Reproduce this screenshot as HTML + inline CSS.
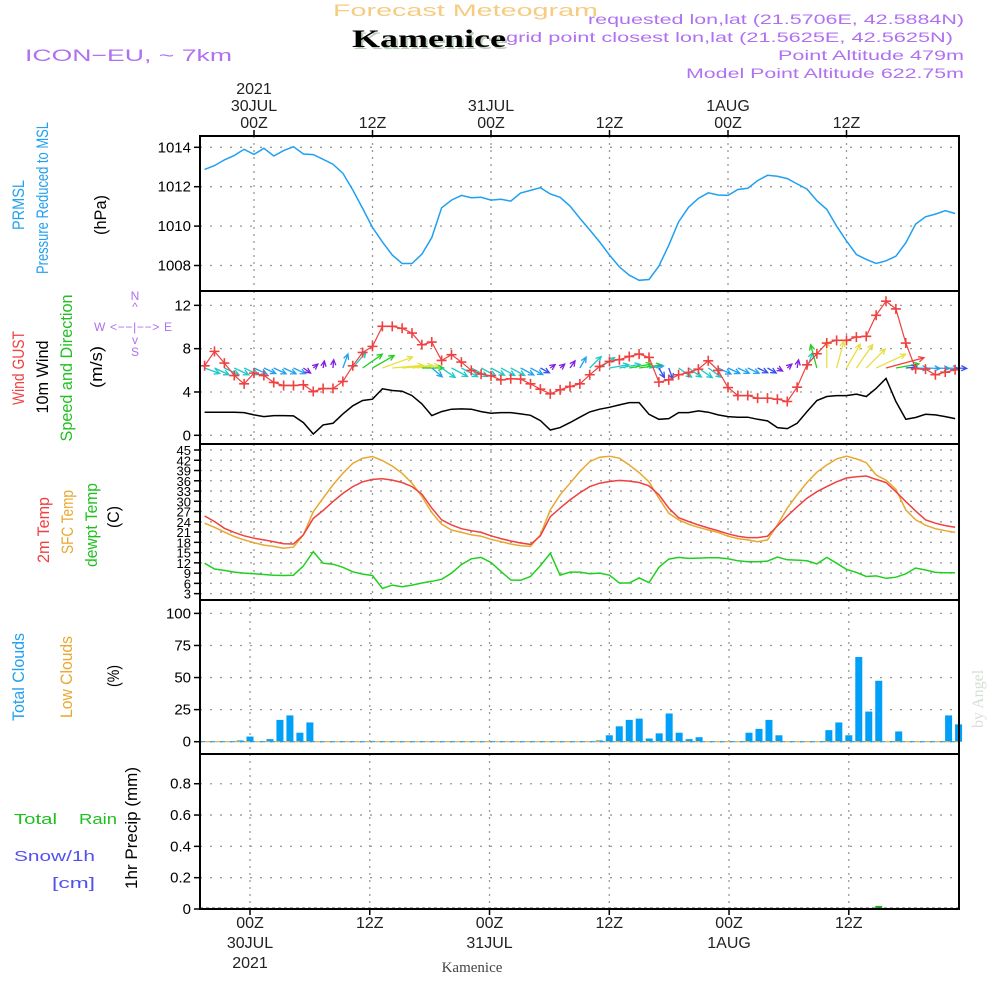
<!DOCTYPE html>
<html><head><meta charset="utf-8"><style>
body{margin:0;background:#fff;}
svg{display:block;font-family:"Liberation Sans",sans-serif;}
</style></head><body>
<svg id="chart" xmlns="http://www.w3.org/2000/svg" width="1000" height="1000" viewBox="0 0 1000 1000">
<rect width="1000" height="1000" fill="#fff"/>
<text x="333" y="16" font-size="17" fill="#f5cc80" textLength="265" lengthAdjust="spacingAndGlyphs">Forecast Meteogram</text>
<text x="354" y="49" font-size="25" font-weight="bold" font-family="Liberation Serif,serif" fill="#b8ccb8" textLength="154" lengthAdjust="spacingAndGlyphs">Kamenice</text>
<text x="352" y="47" font-size="25" font-weight="bold" font-family="Liberation Serif,serif" fill="#000" textLength="154" lengthAdjust="spacingAndGlyphs">Kamenice</text>
<text x="25" y="61" font-size="17" fill="#b070f0" textLength="207" lengthAdjust="spacingAndGlyphs">ICON−EU, ~ 7km</text>
<g fill="#b070f0" font-size="14">
<text x="588" y="24" textLength="376" lengthAdjust="spacingAndGlyphs">requested lon,lat (21.5706E, 42.5884N)</text>
<text x="506" y="42" textLength="447" lengthAdjust="spacingAndGlyphs">grid point closest lon,lat (21.5625E, 42.5625N)</text>
<text x="778" y="60" textLength="186" lengthAdjust="spacingAndGlyphs">Point Altitude 479m</text>
<text x="686" y="78" textLength="278" lengthAdjust="spacingAndGlyphs">Model Point Altitude 622.75m</text>
</g>
<g id="grid"></g>
<g id="marks"></g>
<g id="frames"></g>
<g id="labels"></g>
<g font-size="17">
<text transform="translate(24,205) rotate(-90)" text-anchor="middle" fill="#20a0f0" textLength="50" lengthAdjust="spacingAndGlyphs">PRMSL</text>
<text transform="translate(48,198) rotate(-90)" text-anchor="middle" fill="#20a0f0" textLength="152" lengthAdjust="spacingAndGlyphs">Pressure Reduced to MSL</text>
<text transform="translate(106,215) rotate(-90)" text-anchor="middle" fill="#000" textLength="40" lengthAdjust="spacingAndGlyphs">(hPa)</text>
<text transform="translate(24,368) rotate(-90)" text-anchor="middle" fill="#f04040" textLength="74" lengthAdjust="spacingAndGlyphs">Wind GUST</text>
<text transform="translate(48,377) rotate(-90)" text-anchor="middle" fill="#000" textLength="73" lengthAdjust="spacingAndGlyphs">10m Wind</text>
<text transform="translate(72,368) rotate(-90)" text-anchor="middle" fill="#20c020" textLength="147" lengthAdjust="spacingAndGlyphs">Speed and Direction</text>
<text transform="translate(102,367) rotate(-90)" text-anchor="middle" fill="#000" textLength="42" lengthAdjust="spacingAndGlyphs">(m/s)</text>
<text transform="translate(49,530) rotate(-90)" text-anchor="middle" fill="#f04040" textLength="66" lengthAdjust="spacingAndGlyphs">2m Temp</text>
<text transform="translate(73,522) rotate(-90)" text-anchor="middle" fill="#e8a830" textLength="64" lengthAdjust="spacingAndGlyphs">SFC Temp</text>
<text transform="translate(97,525) rotate(-90)" text-anchor="middle" fill="#20c020" textLength="84" lengthAdjust="spacingAndGlyphs">dewpt Temp</text>
<text transform="translate(119,517) rotate(-90)" text-anchor="middle" fill="#000" textLength="22" lengthAdjust="spacingAndGlyphs">(C)</text>
<text transform="translate(24,677) rotate(-90)" text-anchor="middle" fill="#20a0f0" textLength="88" lengthAdjust="spacingAndGlyphs">Total Clouds</text>
<text transform="translate(72,677) rotate(-90)" text-anchor="middle" fill="#e8a830" textLength="82" lengthAdjust="spacingAndGlyphs">Low Clouds</text>
<text transform="translate(119,676) rotate(-90)" text-anchor="middle" fill="#000" textLength="22" lengthAdjust="spacingAndGlyphs">(%)</text>
<text transform="translate(137,828) rotate(-90)" text-anchor="middle" fill="#000" textLength="122" lengthAdjust="spacingAndGlyphs">1hr Precip (mm)</text>
</g>
<g font-size="15">
<text x="14" y="824" fill="#20c020" textLength="43" lengthAdjust="spacingAndGlyphs">Total</text>
<text x="79" y="824" fill="#20c020" textLength="38" lengthAdjust="spacingAndGlyphs">Rain</text>
<text x="14" y="861" fill="#5050f0" textLength="81" lengthAdjust="spacingAndGlyphs">Snow/1h</text>
<text x="52" y="888" fill="#5050f0" textLength="43" lengthAdjust="spacingAndGlyphs">[cm]</text>
</g>
<g fill="#b070f0" font-size="12" text-anchor="middle">
<text x="135" y="300">N</text><text x="135" y="311">^</text>
<text x="133" y="331" textLength="78" lengthAdjust="spacing">W &lt;−−|−−&gt; E</text>
<text x="135" y="344">v</text><text x="135" y="356">S</text>
</g>
<text transform="translate(983,728) rotate(-90)" font-family="Liberation Serif,serif" font-size="16" fill="#d5dfd5">by Angel</text>
<text x="472" y="972" text-anchor="middle" font-family="Liberation Serif,serif" font-size="15" fill="#444">Kamenice</text>
</svg>
<script>
const START_HOUR = -5;
const pressure = [1012.88,1013.07,1013.36,1013.59,1013.9,1013.64,1013.95,1013.56,1013.83,1014.03,1013.66,1013.63,1013.39,1013.14,1012.68,1011.83,1010.9,1009.93,1009.2,1008.53,1008.1,1008.1,1008.58,1009.42,1010.93,1011.32,1011.56,1011.44,1011.46,1011.32,1011.36,1011.27,1011.68,1011.81,1011.95,1011.63,1011.46,1011.02,1010.39,1009.8,
1009.2,1008.53,1007.93,1007.51,1007.25,1007.29,1007.97,1009.03,1010.22,1010.95,1011.41,1011.69,1011.58,1011.56,1011.86,1011.92,1012.31,1012.58,1012.53,1012.41,1012.14,1011.88,1011.29,1010.85,1010.0,1009.25,1008.56,1008.31,1008.1,1008.24,1008.47,1009.15,1010.1,1010.47,1010.61,1010.78,1010.64];
const gust = [6.42,7.75,6.67,5.52,4.75,5.74,5.52,4.88,4.6,4.6,4.66,4.04,4.32,4.32,4.97,6.42,7.65,8.21,10.06,10.06,9.88,9.44,8.36,8.61,6.91,7.44,6.76,5.99,5.65,5.49,5.12,5.22,5.19,4.75,4.26,3.83,4.2,4.51,4.75,5.59,
6.36,6.82,6.98,7.28,7.5,7.19,4.91,5.12,5.59,5.8,6.11,6.88,5.99,4.41,3.67,3.67,3.43,3.43,3.33,3.12,4.44,6.51,7.53,8.52,8.77,8.77,9.07,9.14,11.08,12.38,11.67,8.52,6.14,6.11,5.59,5.83,6.05];
const wind10 = [2.13,2.13,2.13,2.13,2.1,1.88,1.73,1.82,1.82,1.79,1.17,0.12,0.96,1.11,1.98,2.72,3.21,3.33,4.29,4.14,4.07,3.67,2.9,1.82,2.19,2.41,2.44,2.41,2.19,2.04,2.1,2.1,1.98,1.85,1.36,0.49,0.71,1.17,1.67,2.16,
2.41,2.59,2.81,3.02,3.02,1.94,1.48,1.54,2.1,2.1,2.25,2.13,1.88,1.73,1.67,1.67,1.48,1.33,0.71,0.62,1.11,2.19,3.21,3.58,3.67,3.67,3.8,3.58,4.32,5.25,3.12,1.48,1.64,1.94,1.88,1.73,1.54];
const windDir = [290,295,295,295,295,295,295,295,295,295,305,230,190,185,200,220,235,240,250,265,265,265,270,310,305,298,298,298,298,298,298,298,298,298,298,235,230,215,210,225,
235,260,260,260,262,262,330,340,305,305,305,305,295,295,295,295,295,300,300,230,190,200,165,180,195,210,215,225,245,255,260,265,272,272,272,272,272];
const temp2m = [25.7,24.1,22.1,20.9,19.9,19.2,18.7,18.2,17.6,17.5,20.2,25.0,27.3,29.9,32.3,34.3,35.7,36.4,36.6,36.2,35.5,34.3,32.1,28.0,24.6,23.1,22.0,21.4,20.9,19.9,19.1,18.4,17.8,17.4,19.9,25.5,28.0,30.4,32.5,34.3,
35.3,35.8,36.1,35.9,35.5,34.5,31.9,28.0,25.2,24.1,23.1,22.2,21.4,20.5,19.8,19.4,19.4,19.8,22.8,25.7,28.4,30.9,32.8,34.3,35.7,36.8,37.2,37.4,36.4,35.5,32.8,29.9,27.2,24.6,23.6,22.9,22.4];
const tempSfc = [23.6,22.4,21.0,19.7,18.7,17.9,17.2,16.8,16.3,16.6,20.2,27.0,30.9,34.8,38.2,41.1,42.6,43.1,41.9,40.3,38.2,35.3,31.4,26.7,23.3,21.6,20.9,20.2,19.8,18.9,18.2,17.5,17.0,16.8,20.2,27.5,31.9,35.3,38.7,41.6,
42.9,43.2,42.6,40.6,38.4,35.7,30.9,26.5,24.6,23.3,22.4,21.6,20.9,19.8,19.1,18.7,18.2,18.7,23.1,28.0,31.9,35.5,38.5,40.6,42.4,43.2,42.4,41.3,37.7,36.2,33.5,27.5,24.6,23.0,22.0,21.4,20.9];
const dewpt = [11.9,10.2,9.8,9.3,9.0,8.8,8.6,8.4,8.3,8.4,11.1,15.3,11.9,11.6,10.7,9.4,8.7,8.3,4.5,5.5,5.0,5.5,6.1,6.6,7.2,9.0,11.5,13.2,13.6,12.1,9.5,7.0,6.9,8.0,11.2,14.8,8.4,9.3,9.3,8.8,
9.0,8.4,6.1,6.1,7.6,6.2,10.7,13.1,13.6,13.3,13.4,13.5,13.5,13.2,12.6,12.3,12.3,12.5,13.7,12.9,12.8,12.6,11.7,13.6,11.9,10.1,9.2,8.0,8.2,7.5,7.8,8.8,10.5,9.9,9.2,9.1,9.1];
const totalClouds = [0,0,0,0,1,4,0,2,17,20.5,7,15,0,0,0,0,0,0,0,0,0,0,0,0,0,0,0,0,0,0,0,0,0,0,0,0,0,0,0,0,
1,5,12,17,18,2.5,6.5,22,7,2,3.5,0,0,0,0,7,10,17,5,0,0,0,0,9,15,5,66,23.5,47.5,0,8,0,0,0,0,20.5,13.5];
const lowClouds = [0,0,0,0,0,0,0,0,0,0,0,0,0,0,0,0,0,0,0,0,0,0,0,0,0,0,0,0,0,0,0,0,0,0,0,0,0,0,0,0,0,0,0,0,0,0,0,0,0,0,0,0,0,0,0,0,0,0,0,0,0,0,0,0,0,0,0,0,0,0,0,0,0,0,0,0,0];
const precip = [0,0,0,0,0,0,0,0,0,0,0,0,0,0,0,0,0,0,0,0,0,0,0,0,0,0,0,0,0,0,0,0,0,0,0,0,0,0,0,0,0,0,0,0,0,0,0,0,0,0,0,0,0,0,0,0,0,0,0,0,0,0,0,0,0,0,0,0,0.02,0,0,0,0,0,0,0,0];
const pressureTicks = [1008,1010,1012,1014];
const windTicks = [0,4,8,12];
const tempTicks = [3,6,9,12,15,18,21,24,27,30,33,36,39,42,45];
const cloudTicks = [0,25,50,75,100];
const precipTicks = [0,0.2,0.4,0.6,0.8];
const timeTicks = [0,12,24,36,48,60];
const timeTopLabels = [["2021","30JUL","00Z"],["","","12Z"],["","31JUL","00Z"],["","","12Z"],["","1AUG","00Z"],["","","12Z"]];
const timeBottomLabels = [["00Z","30JUL","2021"],["12Z","",""],["00Z","31JUL",""],["12Z","",""],["00Z","1AUG",""],["12Z","",""]];

const NS='http://www.w3.org/2000/svg';
const L=200,R=959;
const xTop=h=>254+h*9.875;
const xBot=h=>250+h*9.98;
const yP=p=>147.3+(1014-p)*19.7;
const yW=v=>435.3-v*10.83;
const yT=t=>450+(45-t)*3.42;
const yC=c=>741.7-c*1.283;
const yR=p=>909-p*156.6;
const panels=[{t:136,b:291},{t:291,b:444},{t:444,b:600},{t:600,b:754},{t:754,b:909}];
const G=document.getElementById('grid'),M=document.getElementById('marks'),F=document.getElementById('frames'),LB=document.getElementById('labels');
function el(tag,at,parent){const e=document.createElementNS(NS,tag);for(const k in at)e.setAttribute(k,at[k]);parent.appendChild(e);return e;}
function hr(i){return START_HOUR+i;}

panels.forEach((p,pi)=>{
  const xs=pi<3?xTop:xBot;
  timeTicks.forEach(h=>{const g=el('line',{x1:xs(h),x2:xs(h),y1:p.t,y2:p.b,stroke:'#999','stroke-width':1.3,'stroke-dasharray':'2 5'},G);
  
  });
});
function hgrid(ticks,fy,fmt,pi){
  ticks.forEach(v=>{const y=fy(v);
    const g=el('line',{x1:L,x2:R,y1:y,y2:y,stroke:'#999','stroke-width':1.3,'stroke-dasharray':'2 8'},G);
    
    
    el('line',{x1:L-6,x2:L,y1:y,y2:y,stroke:'#000','stroke-width':1.5},F);
    const t=el('text',{x:L-9,y:y+5,'text-anchor':'end','font-size':pi==2?13:15,fill:'#000'},LB);
    
    
    t.textContent=fmt(v);});
}
hgrid(pressureTicks,yP,v=>v,0);
hgrid(windTicks,yW,v=>v,1);
hgrid(tempTicks,yT,v=>v,2);
hgrid(cloudTicks,yC,v=>v,3);
hgrid(precipTicks,yR,v=>v===0?'0':v.toFixed(1),4);

function line(vals,fx,fy,color,name,w){
  const pts=vals.map((v,i)=>fx(hr(i)).toFixed(1)+','+fy(v).toFixed(1)).join(' ');
  const p=el('polyline',{points:pts,fill:'none',stroke:color,'stroke-width':w||1.5},M);
  
  
}
line(pressure,xTop,yP,'#20a0f0','pressure-line');
line(wind10,xTop,yW,'#000','wind10-line');
function wcol(s){return s<1.2?'#8020e0':s<1.6?'#3050f0':s<2.0?'#20a0f0':s<2.9?'#20c8c8':s<3.5?'#20d020':s<5?'#e8e040':'#f04040';}
wind10.forEach((s,i)=>{
  const x=xTop(hr(i)),y=368,to=(windDir[i]+180)*Math.PI/180,len=Math.max(s,0.8)*7.5;
  const dx=Math.sin(to)*len,dy=-Math.cos(to)*len,x2=x+dx,y2=y+dy;
  const a=Math.atan2(dy,dx),hl=6;
  const g=el('g',{stroke:wcol(s),'stroke-width':1.3,fill:'none'},M);
  
  
  el('line',{x1:x,y1:y,x2:x2,y2:y2},g);
  el('polyline',{points:`${x2-hl*Math.cos(a-0.45)},${y2-hl*Math.sin(a-0.45)} ${x2},${y2} ${x2-hl*Math.cos(a+0.45)},${y2-hl*Math.sin(a+0.45)}`},g);
});
line(gust,xTop,yW,'#f04040','gust-line',1.2);
gust.forEach((v,i)=>{const x=xTop(hr(i)),y=yW(v);
  const p=el('path',{d:`M${x-5},${y}H${x+5}M${x},${y-5}V${y+5}`,stroke:'#f04040','stroke-width':1.6},M);
  
  });
line(tempSfc,xTop,yT,'#e8a830','sfc-temp-line');
line(temp2m,xTop,yT,'#f04040','temp2m-line');
line(dewpt,xTop,yT,'#20d020','dewpt-line');
totalClouds.forEach((v,i)=>{if(v<=0)return;const x=xBot(hr(i));
  const r=el('rect',{x:x-3.5,y:yC(v),width:7,height:yC(0)-yC(v),fill:'#00a0f8'},M);
  
  });
lowClouds.forEach((v,i)=>{if(v<=0)return;const x=xBot(hr(i));
  const r=el('rect',{x:x-2,y:yC(v),width:4,height:yC(0)-yC(v),fill:'#e8a830'},M);
  
  });
el('line',{x1:L,x2:R,y1:yC(0),y2:yC(0),stroke:'#20a0f0','stroke-width':1.2,'stroke-dasharray':'5 5'},M);
el('line',{x1:L+5,x2:R,y1:yC(0),y2:yC(0),stroke:'#e8a830','stroke-width':1.2,'stroke-dasharray':'5 5'},M);
precip.forEach((v,i)=>{if(v<=0)return;const x=xBot(hr(i));
  const r=el('rect',{x:x-3.5,y:yR(v),width:7,height:yR(0)-yR(v),fill:'#20b020'},M);
  
  });
el('line',{x1:L,x2:R,y1:908,y2:908,stroke:'#555','stroke-width':1,'stroke-dasharray':'3 3'},M);

panels.forEach(p=>{const r=el('rect',{x:L,y:p.t,width:R-L,height:p.b-p.t,fill:'none',stroke:'#000','stroke-width':2},F);
  
  });
timeTicks.forEach((h,k)=>{
  const xt=xTop(h),xb=xBot(h);
  el('line',{x1:xt,x2:xt,y1:130,y2:136,stroke:'#000','stroke-width':1.5},F);
  el('line',{x1:xb,x2:xb,y1:909,y2:915,stroke:'#000','stroke-width':1.5},F);
  timeTopLabels[k].forEach((s,j)=>{if(!s)return;const t=el('text',{x:xt,y:94+j*17,'text-anchor':'middle','font-size':16,fill:'#222'},LB);
    
    
    t.textContent=s;});
  timeBottomLabels[k].forEach((s,j)=>{if(!s)return;const t=el('text',{x:xb,y:928+j*20,'text-anchor':'middle','font-size':16,fill:'#222'},LB);
    
    
    t.textContent=s;});
});
</script>
</body></html>
